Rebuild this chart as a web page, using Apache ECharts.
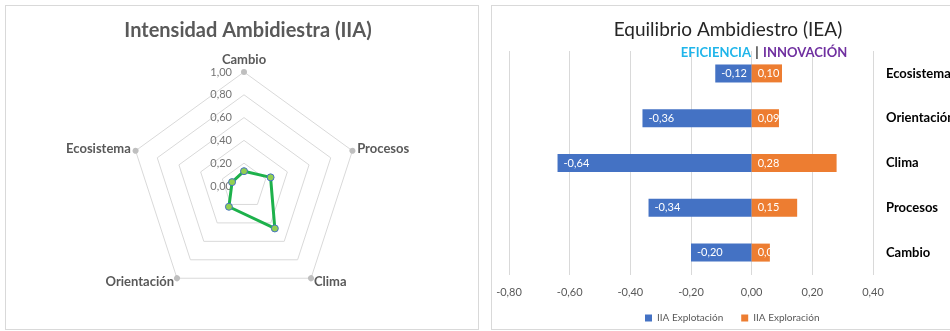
<!DOCTYPE html>
<html>
<head>
<meta charset="utf-8">
<script src="https://cdn.jsdelivr.net/npm/echarts@6/dist/echarts.min.js"></script>
<style>
  html, body { margin: 0; padding: 0; background: #fff; overflow: hidden; }
  .panel { position: absolute; border: 1px solid #d9d9d9; background: #fff; }
  #chart { position: absolute; left: 0; top: 0; width: 950px; height: 331px; }
</style>
</head>
<body>
<div class="panel" style="left:5px;top:5px;width:472px;height:323px;"></div>
<div class="panel" style="left:491px;top:5px;width:480px;height:323px;"></div>
<div id="chart"></div>
<script>
// radar: listed counterclockwise from the top, the way echarts lays out indicators
const radarNames = ['Cambio', 'Ecosistema', 'Orientación', 'Clima', 'Procesos']
const radarValues = [0.13, 0.11, 0.225, 0.46, 0.245]

// bars: bottom to top
const barCategories = ['Cambio', 'Procesos', 'Clima', 'Orientación', 'Ecosistema']
const explotacion = [-0.20, -0.34, -0.64, -0.36, -0.12]
const exploracion = [0.06, 0.15, 0.28, 0.09, 0.10]

const FONT = 'Lato, "Open Sans", sans-serif'
const fmt = (v) => v.toFixed(2).replace('.', ',')

const chart = echarts.init(document.getElementById('chart'), null, { renderer: 'canvas' })

const option = {
  animation: false,
  textStyle: { fontFamily: FONT },
  title: [
    {
      text: 'Intensidad Ambidiestra (IIA)',
      left: 243,
      top: 16,
      textAlign: 'center',
      textStyle: { fontFamily: FONT, fontSize: 20, fontWeight: 'bold', color: '#595959' }
    },
    {
      text: 'Equilibrio Ambidiestro (IEA)',
      left: 723,
      top: 15,
      textAlign: 'center',
      textStyle: { fontFamily: FONT, fontSize: 19, fontWeight: 'normal', color: '#262626' }
    },
    {
      text: '{a|EFICIENCIA} {b||} {c|INNOVACIÓN}',
      left: 759,
      top: 39,
      textAlign: 'center',
      textStyle: {
        fontFamily: FONT,
        rich: {
          a: { fontFamily: FONT, fontSize: 13, fontWeight: 'bold', color: '#1fb5ea' },
          b: { fontFamily: FONT, fontSize: 13, fontWeight: 'bold', color: '#262626' },
          c: { fontFamily: FONT, fontSize: 13, fontWeight: 'bold', color: '#7030a0' }
        }
      }
    }
  ],
  radar: {
    center: [244, 186],
    radius: 114,
    shape: 'polygon',
    splitNumber: 5,
    nameGap: 5,
    axisName: { color: '#595959', fontSize: 13, fontWeight: 'bold', fontFamily: FONT },
    splitLine: { lineStyle: { color: '#d9d9d9', width: 1 } },
    splitArea: { show: false },
    axisLine: {
      show: true,
      symbol: ['none', 'circle'],
      symbolSize: [6, 6],
      lineStyle: { color: '#bfbfbf', width: 0 }
    },
    axisTick: { show: false },
    axisLabel: { show: false },
    indicator: radarNames.map((name, i) => {
      const ind = { name: name, min: 0, max: 1 }
      if (i === 0) {
        ind.axisLabel = {
          show: true,
          color: '#737373',
          fontSize: 11,
          margin: 12,
          formatter: fmt
        }
      }
      return ind
    })
  },
  grid: {
    left: 509,
    right: 77,
    top: 51,
    height: 224,
    outerBoundsMode: 'none'
  },
  xAxis: {
    type: 'value',
    min: -0.8,
    max: 0.4,
    interval: 0.2,
    axisLine: { show: false },
    axisTick: { show: false },
    splitLine: { lineStyle: { color: '#d9d9d9' } },
    axisLabel: { color: '#595959', fontSize: 11, margin: 12, formatter: fmt }
  },
  yAxis: {
    type: 'category',
    position: 'right',
    data: barCategories,
    axisLine: { show: false },
    axisTick: { show: false },
    axisLabel: {
      color: '#000',
      fontSize: 13,
      fontWeight: 'bold',
      align: 'left',
      margin: 13
    }
  },
  legend: {
    left: 640,
    top: 308,
    itemWidth: 7,
    itemHeight: 7,
    itemGap: 18,
    icon: 'rect',
    textStyle: { color: '#595959', fontSize: 10, fontFamily: FONT },
    data: ['IIA Explotación', 'IIA Exploración']
  },
  series: [
    {
      type: 'radar',
      symbol: 'circle',
      symbolSize: 7,
      lineStyle: { color: '#1db14b', width: 3 },
      itemStyle: { color: '#92d050', borderColor: '#4472c4', borderWidth: 1 },
      data: [{ value: radarValues, name: 'IIA' }]
    },
    {
      name: 'IIA Explotación',
      type: 'bar',
      barWidth: 18,
      barGap: '-100%',
      itemStyle: { color: '#4472c4' },
      label: {
        show: true,
        position: 'insideLeft',
        distance: 6,
        color: '#fff',
        fontSize: 11,
        formatter: (p) => fmt(p.value)
      },
      data: explotacion
    },
    {
      name: 'IIA Exploración',
      type: 'bar',
      barWidth: 18,
      barGap: '-100%',
      itemStyle: { color: '#ed7d31' },
      label: {
        show: true,
        position: 'insideLeft',
        distance: 6,
        color: '#fff',
        fontSize: 11,
        formatter: (p) => fmt(p.value)
      },
      // narrow bar: label is cut off at the bar end, as in the source
      data: exploracion.map((v) => (v < 0.08
        ? { value: v, label: { width: 20, overflow: 'truncate', ellipsis: '' } }
        : v))
    }
  ]
}

chart.setOption(option)
</script>
</body>
</html>
